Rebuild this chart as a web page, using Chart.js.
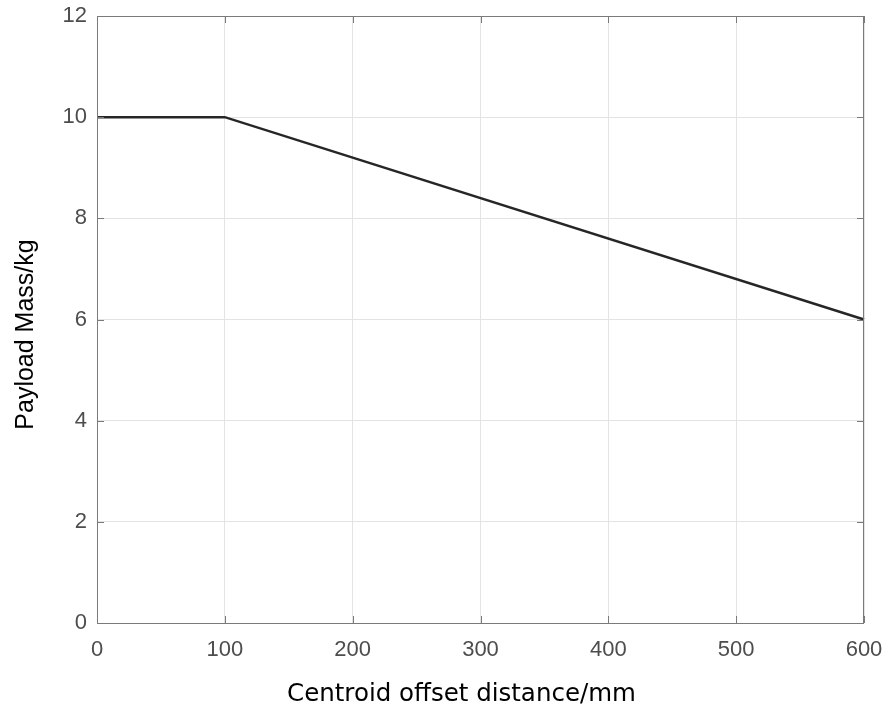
<!DOCTYPE html>
<html>
<head>
<meta charset="utf-8">
<script src="https://cdn.jsdelivr.net/npm/chart.js@4"></script>
<style>
  html, body { margin: 0; padding: 0; background: #fff; }
  #wrap { width: 886px; height: 711px; }
</style>
</head>
<body>
<div id="wrap"><canvas id="chart" width="886" height="711"></canvas></div>
<script>
const offsetMm = [0, 100, 600];
const payloadKg = [10, 10, 6];
const xTicks = [0, 100, 200, 300, 400, 500, 600];
const yTicks = [0, 2, 4, 6, 8, 10, 12];
const xTitle = 'Centroid offset distance/mm';
const yTitle = 'Payload Mass/kg';

const AXIS_COLOR = '#7a7a7a';
const GRID_COLOR = '#e3e3e3';
const TICK_COLOR = '#4d4d4d';

// MATLAB-like box with inward ticks, plus the axis labels
const boxPlugin = {
    id: 'box',
    afterDraw(chart) {
        const { ctx, chartArea: a, scales } = chart;
        const len = 7;
        ctx.save();
        ctx.strokeStyle = AXIS_COLOR;
        ctx.lineWidth = 1;
        ctx.strokeRect(a.left + 0.5, a.top + 0.5, a.right - a.left - 1, a.bottom - a.top);
        ctx.beginPath();
        xTicks.forEach(v => {
            const px = Math.round(scales.x.getPixelForValue(v)) + 0.5;
            ctx.moveTo(px, a.bottom); ctx.lineTo(px, a.bottom - len);
            ctx.moveTo(px, a.top); ctx.lineTo(px, a.top + len);
        });
        yTicks.forEach(v => {
            const py = Math.round(scales.y.getPixelForValue(v)) + 0.5;
            ctx.moveTo(a.left, py); ctx.lineTo(a.left + len, py);
            ctx.moveTo(a.right, py); ctx.lineTo(a.right - len, py);
        });
        ctx.stroke();

        // titles (offset a bit from centre like the original figure)
        ctx.fillStyle = '#000';
        ctx.textAlign = 'center';
        ctx.textBaseline = 'middle';
        ctx.font = '24.5px "DejaVu Sans", sans-serif';
        ctx.fillText(xTitle, (a.left + a.right) / 2 - 19, a.bottom + 72);
        ctx.translate(26, (a.top + a.bottom) / 2 + 15);
        ctx.rotate(-Math.PI / 2);
        ctx.font = '25px "Liberation Sans", Arial, sans-serif';
        ctx.fillText(yTitle, 0, 0);
        ctx.restore();
    }
};

const ctx = document.getElementById('chart').getContext('2d');
new Chart(ctx, {
    type: 'line',
    data: {
        datasets: [{
            data: offsetMm.map((x, i) => ({ x: x, y: payloadKg[i] })),
            borderColor: '#262626',
            borderWidth: 2.5,
            pointRadius: 0,
            fill: false,
            tension: 0,
            clip: false
        }]
    },
    options: {
        responsive: false,
        animation: false,
        layout: { padding: { top: 16, right: 22, left: 0, bottom: 0 } },
        plugins: {
            legend: { display: false },
            tooltip: { enabled: false }
        },
        scales: {
            x: {
                type: 'linear',
                min: 0, max: 600,
                afterBuildTicks: s => { s.ticks = xTicks.map(v => ({ value: v })); },
                afterFit: s => { s.height = 88; s.paddingLeft = 0; s.paddingRight = 0; },
                grid: { color: GRID_COLOR, drawTicks: false },
                border: { display: false },
                ticks: {
                    color: TICK_COLOR, padding: 14, maxRotation: 0,
                    font: { family: '"Liberation Sans", Arial, sans-serif', size: 22 }
                }
            },
            y: {
                min: 0, max: 12,
                afterBuildTicks: s => { s.ticks = yTicks.map(v => ({ value: v })); },
                afterFit: s => { s.width = 97; s.paddingTop = 0; s.paddingBottom = 0; },
                grid: { color: GRID_COLOR, drawTicks: false },
                border: { display: false },
                ticks: {
                    color: TICK_COLOR, padding: 10,
                    font: { family: '"Liberation Sans", Arial, sans-serif', size: 22 }
                }
            }
        }
    },
    plugins: [boxPlugin]
});
</script>
</body>
</html>
